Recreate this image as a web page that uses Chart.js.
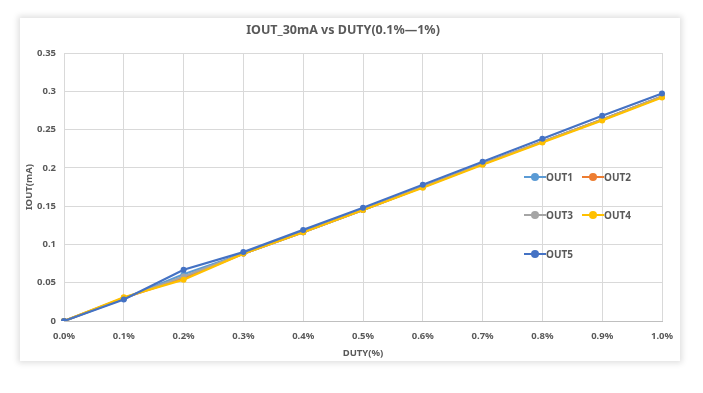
<!DOCTYPE html>
<html>
<head>
<meta charset="utf-8">
<script src="https://cdn.jsdelivr.net/npm/chart.js@4/dist/chart.umd.min.js"></script>
<style>
  html, body { margin: 0; padding: 0; background: #ffffff; width: 703px; height: 393px; overflow: hidden; }
  #card { position: absolute; left: 20px; top: 18px; width: 660px; height: 343px; background: #fff;
          box-shadow: 0 0 6px 2px rgba(0,0,0,0.13); }
  #chart { position: absolute; left: 0; top: 0; }
  #legend { position: absolute; left: 504px; top: 153px; width: 130px; font-family: "Noto Sans", sans-serif;
            font-size: 10px; font-weight: bold; color: #595959; }
  .item { position: absolute; height: 12px; line-height: 12px; white-space: nowrap; }
  .sym { position: absolute; left: 0; top: 5px; width: 22px; height: 2px; }
  .dot { position: absolute; left: 7px; top: -3px; width: 8px; height: 8px; border-radius: 50%; }
  .lbl { position: absolute; left: 22px; top: 0; }
</style>
</head>
<body>
<div id="card">
  <canvas id="chart" width="660" height="343"></canvas>
  <div id="legend"></div>
</div>
<script>
const categories = ["0.0%", "0.1%", "0.2%", "0.3%", "0.4%", "0.5%", "0.6%", "0.7%", "0.8%", "0.9%", "1.0%"];
const seriesNames = ["OUT1", "OUT2", "OUT3", "OUT4", "OUT5"];
const out1 = [0, 0.029, 0.061, 0.088, 0.116, 0.145, 0.175, 0.205, 0.234, 0.263, 0.293];
const out2 = [0, 0.030, 0.056, 0.088, 0.116, 0.145, 0.175, 0.205, 0.234, 0.263, 0.293];
const out3 = [0, 0.030, 0.058, 0.088, 0.116, 0.145, 0.175, 0.205, 0.234, 0.263, 0.293];
const out4 = [0, 0.031, 0.054, 0.088, 0.116, 0.145, 0.174, 0.204, 0.233, 0.262, 0.292];
const out5 = [0, 0.028, 0.067, 0.090, 0.119, 0.148, 0.178, 0.208, 0.238, 0.268, 0.297];
const colors = ["#5B9BD5", "#ED7D31", "#A5A5A5", "#FFC000", "#4472C4"];
const titleText = "IOUT_30mA vs DUTY(0.1%\u20141%)";
const xTitle = "DUTY(%)";
const yTitle = "IOUT(mA)";

const allSeries = [out1, out2, out3, out4, out5];
const datasets = allSeries.map((d, i) => ({
  label: seriesNames[i],
  data: d,
  borderColor: colors[i],
  backgroundColor: colors[i],
  borderWidth: 2.2,
  pointRadius: 3,
  pointBorderWidth: 0,
  pointBackgroundColor: colors[i],
  tension: 0,
  order: 5 - i
}));

const FONT = "'Noto Sans', sans-serif";
const tickColor = "#595959";

new Chart(document.getElementById("chart"), {
  type: "line",
  data: { labels: categories, datasets },
  options: {
    responsive: false,
    animation: false,
    layout: { padding: { left: 4, right: 18, top: 0, bottom: 0 } },
    plugins: {
      legend: { display: false },
      tooltip: { enabled: false },
      title: {
        display: true, text: titleText, color: "#595959",
        font: { family: FONT, size: 12.5, weight: "bold" },
        padding: { top: 5, bottom: 15 }
      }
    },
    scales: {
      x: {
        type: "category",
        offset: false,
        grid: { color: "#d9d9d9", lineWidth: 1, drawTicks: false },
        border: { color: "#bfbfbf" },
        ticks: { color: tickColor, font: { family: FONT, size: 9.5, weight: "bold" }, padding: 10, maxRotation: 0, autoSkip: false },
        title: { display: true, text: xTitle, color: tickColor, font: { family: FONT, size: 9.5, weight: "bold" }, padding: { top: 2, bottom: 2 } },
        afterFit: (s) => { s.height = 40; s.paddingRight = 0; s.paddingLeft = 0; }
      },
      y: {
        min: 0, max: 0.35,
        grid: { color: "#d9d9d9", lineWidth: 1, drawTicks: false },
        border: { display: false },
        ticks: { stepSize: 0.05, color: tickColor, font: { family: FONT, size: 9.5, weight: "bold" }, padding: 8,
                 callback: (v) => String(parseFloat(v.toFixed(2))) },
        title: { display: true, text: yTitle, color: tickColor, font: { family: FONT, size: 9.5, weight: "bold" }, padding: { top: 0, bottom: 4 } },
        afterFit: (s) => { s.width = 40; }
      }
    }
  }
});

const legend = document.getElementById("legend");
const pos = [[0, 0], [58, 0], [0, 38], [58, 38], [0, 77]];
seriesNames.forEach((n, i) => {
  const it = document.createElement("div");
  it.className = "item";
  it.style.left = pos[i][0] + "px";
  it.style.top = pos[i][1] + "px";
  it.innerHTML = '<div class="sym" style="background:' + colors[i] + '"><div class="dot" style="background:' + colors[i] + '"></div></div><span class="lbl">' + n + '</span>';
  legend.appendChild(it);
});
</script>
</body>
</html>
